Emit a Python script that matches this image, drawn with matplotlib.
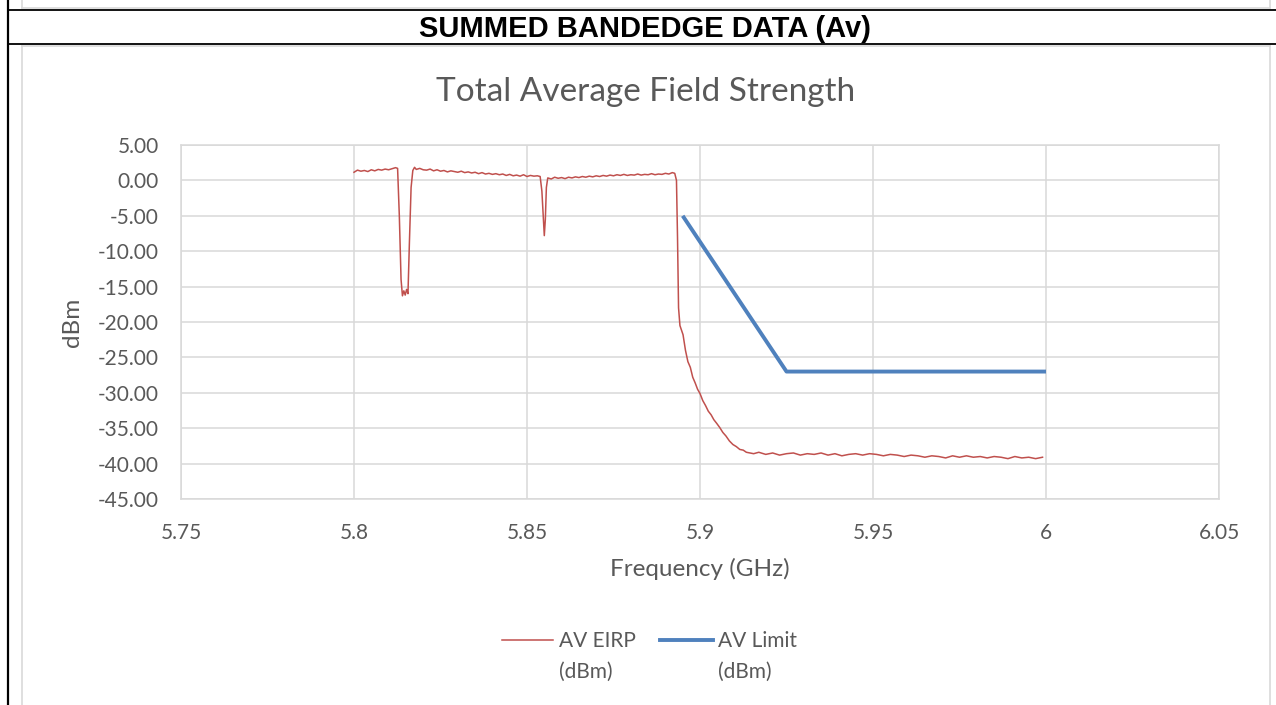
import numpy as np
import matplotlib
matplotlib.use('Agg')
import matplotlib.pyplot as plt
from matplotlib.lines import Line2D

# AV EIRP trace (dBm)
f_a = np.arange(5.800, 5.8125, 0.001)
v_a = [1.15, 1.45, 1.30, 1.40, 1.25, 1.50, 1.35, 1.55, 1.45, 1.60, 1.50, 1.65, 1.80]
f_dip1 = [5.8126, 5.8131, 5.8136, 5.8140, 5.8144, 5.8148, 5.8152, 5.8156, 5.8160, 5.8165, 5.8170, 5.8175]
v_dip1 = [1.70, -5.0, -14.0, -16.3, -15.6, -16.2, -15.4, -16.0, -9.0, -1.0, 1.40, 1.85]
f_b = np.arange(5.818, 5.8535, 0.001)
v_b = [1.55, 1.70, 1.50, 1.45, 1.60, 1.35, 1.50, 1.30, 1.40, 1.20, 1.35, 1.25,
       1.15, 1.30, 1.10, 1.20, 1.05, 1.15, 0.95, 1.10, 0.90, 1.00, 0.85, 0.95,
       0.80, 0.90, 0.70, 0.85, 0.65, 0.75, 0.60, 0.80, 0.55, 0.70, 0.60, 0.65]
f_dip2 = [5.8538, 5.8543, 5.8548, 5.8550, 5.8553, 5.8556, 5.8560]
v_dip2 = [0.55, -1.5, -6.0, -7.8, -5.5, -1.0, 0.35]
f_c = np.arange(5.857, 5.8925, 0.001)
v_c = [0.20, 0.45, 0.30, 0.40, 0.25, 0.45, 0.35, 0.50, 0.40, 0.55, 0.45, 0.60,
       0.50, 0.65, 0.55, 0.70, 0.60, 0.75, 0.65, 0.80, 0.70, 0.85, 0.70, 0.80,
       0.75, 0.90, 0.75, 0.85, 0.80, 0.95, 0.80, 0.90, 0.85, 1.00, 0.90, 1.10]
f_drop = [5.8927, 5.8932, 5.8935, 5.8938, 5.8942, 5.8951, 5.8958, 5.8965, 5.8972,
          5.8979, 5.8986, 5.8993, 5.9000, 5.9008, 5.9016, 5.9024, 5.9032, 5.9040,
          5.9048, 5.9057, 5.9066, 5.9075, 5.9085, 5.9095, 5.9105, 5.9115, 5.9125,
          5.9134, 5.9145, 5.9155]
v_drop = [1.00, 0.0, -8.0, -18.0, -20.5, -21.8, -24.0, -25.6, -26.4,
          -27.8, -28.6, -29.5, -30.1, -31.1, -31.8, -32.6, -33.1, -33.8,
          -34.3, -34.9, -35.6, -36.1, -36.8, -37.3, -37.6, -38.0, -38.1,
          -38.4, -38.5, -38.6]
f_d = np.arange(5.917, 6.0005, 0.002)
v_d = [-38.4, -38.7, -38.5, -38.8, -38.6, -38.5, -38.8, -38.6, -38.7, -38.5,
       -38.8, -38.6, -38.9, -38.7, -38.6, -38.8, -38.6, -38.7, -38.9, -38.7,
       -38.8, -39.0, -38.8, -38.9, -39.1, -38.9, -39.0, -39.2, -38.9, -39.1,
       -38.9, -39.1, -39.0, -39.2, -39.0, -39.1, -39.3, -39.0, -39.2, -39.1,
       -39.3, -39.1]

eirp_f = np.concatenate([f_a, f_dip1, f_b, f_dip2, f_c, f_drop, f_d])
eirp_v = np.concatenate([v_a, v_dip1, v_b, v_dip2, v_c, v_drop, v_d])

# AV limit (dBm)
limit_f = [5.895, 5.925, 6.0]
limit_v = [-5.0, -27.0, -27.0]

x_ticks = [5.75, 5.8, 5.85, 5.9, 5.95, 6.0, 6.05]
x_labels = ['5.75', '5.8', '5.85', '5.9', '5.95', '6', '6.05']
y_ticks = [5, 0, -5, -10, -15, -20, -25, -30, -35, -40, -45]

red = '#C0504D'
blue = '#4F81BD'
grey_txt = '#595959'
grid_c = '#D9D9D9'

plt.rcParams['font.family'] = ['Lato', 'DejaVu Sans']

W, H = 1276, 705
fig = plt.figure(figsize=(W / 100, H / 100), dpi=100)

def fx(x):
    return x / W

def fy(y):
    return 1 - y / H

ax = fig.add_axes([fx(181), fy(499), (1219 - 181) / W, (499 - 145) / H])
ax.plot(eirp_f, eirp_v, color=red, lw=1.1)
ax.plot(limit_f, limit_v, color=blue, lw=2.8, solid_capstyle='butt')
ax.set_xlim(5.75, 6.05)
ax.set_ylim(-45, 5)
ax.set_xticks(x_ticks)
ax.set_xticklabels(x_labels)
ax.set_yticks(y_ticks)
ax.set_yticklabels(['%.2f' % v for v in y_ticks])
ax.tick_params(length=0, labelsize=15, labelcolor=grey_txt)
ax.tick_params(axis='x', pad=17)
ax.tick_params(axis='y', pad=16)
ax.grid(True, color=grid_c, lw=1.1)
ax.set_axisbelow(True)
for s in ax.spines.values():
    s.set_color(grid_c)
    s.set_linewidth(1.1)

# texts
fig.text(fx(645), fy(37), 'SUMMED BANDEDGE DATA (Av)', ha='center', va='baseline',
         fontsize=21, fontweight='bold', family=['Liberation Sans', 'DejaVu Sans'], color='black')
fig.text(fx(646), fy(101), 'Total Average Field Strength', ha='center', va='baseline',
         fontsize=24, color=grey_txt)
fig.text(fx(700), fy(576), 'Frequency (GHz)', ha='center', va='baseline', fontsize=17.5, color=grey_txt)
fig.text(fx(72), fy(322), 'dBm', ha='center', va='center', rotation=90, fontsize=17.5, color=grey_txt)

# legend
fig.add_artist(Line2D([fx(502), fx(553)], [fy(640), fy(640)], color=red, lw=1.1))
fig.add_artist(Line2D([fx(660), fx(713)], [fy(640), fy(640)], color=blue, lw=2.8))
fig.text(fx(559), fy(647), 'AV EIRP', va='baseline', fontsize=15, color=grey_txt)
fig.text(fx(559), fy(678), '(dBm)', va='baseline', fontsize=15, color=grey_txt)
fig.text(fx(718), fy(647), 'AV Limit', va='baseline', fontsize=15, color=grey_txt)
fig.text(fx(718), fy(678), '(dBm)', va='baseline', fontsize=15, color=grey_txt)

# table / chart frame lines
def seg(x0, y0, x1, y1, c, lw):
    fig.add_artist(Line2D([fx(x0), fx(x1)], [fy(y0), fy(y1)], color=c, lw=lw))

seg(22, 8, 1270, 8, grid_c, 1.2)
seg(22, 0, 22, 8, grid_c, 1.2)
seg(1270, 0, 1270, 8, grid_c, 1.2)
seg(22, 46, 1270, 46, grid_c, 1.2)
seg(22, 46, 22, 705, grid_c, 1.2)
seg(1270, 46, 1270, 705, grid_c, 1.2)
seg(8, 10, 1276, 10, 'black', 1.3)
seg(8, 44, 1276, 44, 'black', 1.3)
seg(8, 0, 8, 705, 'black', 1.6)

fig.savefig('out.png', dpi=100)
